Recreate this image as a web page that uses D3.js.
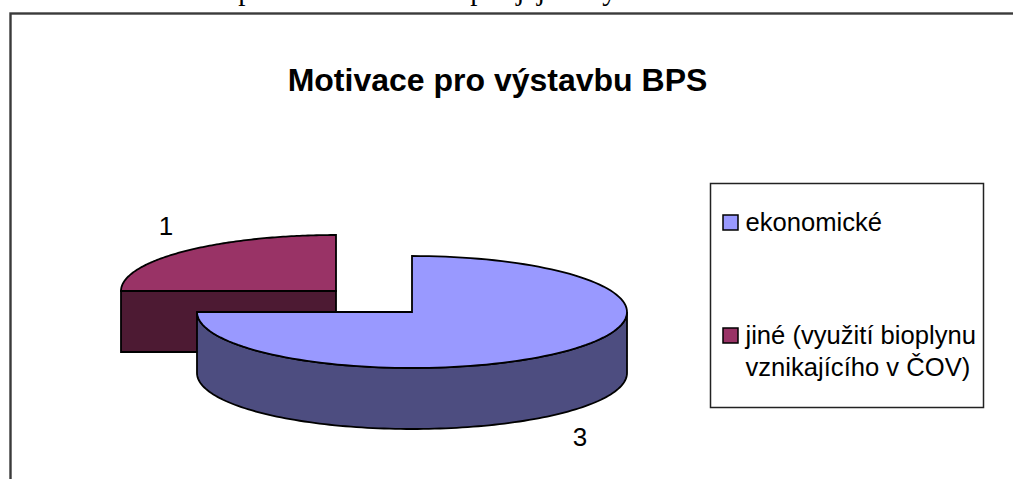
<!DOCTYPE html>
<html>
<head>
<meta charset="utf-8">
<script src="https://cdn.jsdelivr.net/npm/d3@7"></script>
<style>
html, body { margin: 0; padding: 0; background: #fff; overflow: hidden; }
svg { display: block; }
</style>
</head>
<body>
<svg id="chart" width="1013" height="479"></svg>
<script>
// data
const categories = ["ekonomické", "jiné (využití bioplynu\nvznikajícího v ČOV)"];
const values = [3, 1];
const topColors = ["#9999ff", "#993366"];
const sideColors = ["#4d4d80", "#4d1a33"];
const caption = "Graf č. 4 Motivace provozovatelů BPS pro jejich výstavbu";
const title = "Motivace pro výstavbu BPS";

const svg = d3.select("#chart");
const font = "'Liberation Sans', Arial, sans-serif";

// clipped caption line of the surrounding document
svg.append("text")
    .attr("x", 12).attr("y", 0)
    .attr("font-family", "'Liberation Serif', serif")
    .attr("font-size", 29)
    .text(caption);

// chart frame runs off the right and bottom of the crop
svg.append("rect")
    .attr("x", 10.5).attr("y", 13.5)
    .attr("width", 1100).attr("height", 600)
    .attr("fill", "none")
    .attr("stroke", "#3a3a3a")
    .attr("stroke-width", 2.4);

svg.append("text")
    .attr("x", 497.5).attr("y", 91)
    .attr("text-anchor", "middle")
    .attr("font-family", font)
    .attr("font-weight", "bold")
    .attr("font-size", 32)
    .text(title);

// 3D pie
const rx = 215, ry = 56, depth = 61;
const centers = [{x: 412, y: 312}, {x: 336, y: 291}]; // second slice is pulled out
const labelPos = [{x: 580, y: 446}, {x: 166, y: 235}];

const slices = d3.pie().sort(null)(values);

const point = (c, a, dy = 0) => [c.x + rx * Math.sin(a), c.y - ry * Math.cos(a) + dy];
const rim = (a0, a1) => d3.range(0, 121).map(i => a0 + (a1 - a0) * i / 120);
const line = d3.line();

const pie = svg.append("g")
    .attr("stroke", "#000")
    .attr("stroke-width", 1.8)
    .attr("stroke-linejoin", "miter");

// back slice first so the big one overlaps it
[1, 0].forEach(i => {
    const s = slices[i], c = centers[i];
    const a0 = Math.max(s.startAngle, Math.PI / 2);
    const a1 = Math.min(s.endAngle, 3 * Math.PI / 2);

    if (a1 > a0) {
        const pts = rim(a0, a1);
        pie.append("path")
            .attr("d", line(pts.map(a => point(c, a)).concat(pts.slice().reverse().map(a => point(c, a, depth)))) + "Z")
            .attr("fill", sideColors[i]);
    } else {
        // only the cut face shows: centre to the left rim
        const a = s.startAngle;
        pie.append("path")
            .attr("d", line([point(c, a), [c.x, c.y], [c.x, c.y + depth], point(c, a, depth)]) + "Z")
            .attr("fill", sideColors[i]);
    }

    pie.append("path")
        .attr("d", line([[c.x, c.y]].concat(rim(s.startAngle, s.endAngle).map(a => point(c, a)))) + "Z")
        .attr("fill", topColors[i]);

    svg.append("text")
        .attr("x", labelPos[i].x).attr("y", labelPos[i].y)
        .attr("text-anchor", "middle")
        .attr("font-family", font)
        .attr("font-size", 26)
        .text(values[i]);
});

// legend
svg.append("rect")
    .attr("x", 710.5).attr("y", 183.5)
    .attr("width", 273).attr("height", 224)
    .attr("fill", "#fff")
    .attr("stroke", "#222")
    .attr("stroke-width", 1.5);

const legendY = [231, 344];
const legend = svg.append("g").selectAll("g")
    .data(categories)
    .join("g")
    .attr("transform", (d, i) => `translate(0,${legendY[i]})`);

legend.append("rect")
    .attr("x", 723).attr("y", -16)
    .attr("width", 15).attr("height", 15)
    .attr("fill", (d, i) => topColors[i])
    .attr("stroke", "#000")
    .attr("stroke-width", 1.5);

legend.each(function(d) {
    d3.select(this).selectAll("text")
        .data(d.split("\n"))
        .join("text")
        .attr("x", 745.5)
        .attr("y", (t, j) => j * 32)
        .attr("font-family", font)
        .attr("font-size", 25.6)
        .text(t => t);
});
</script>
</body>
</html>
